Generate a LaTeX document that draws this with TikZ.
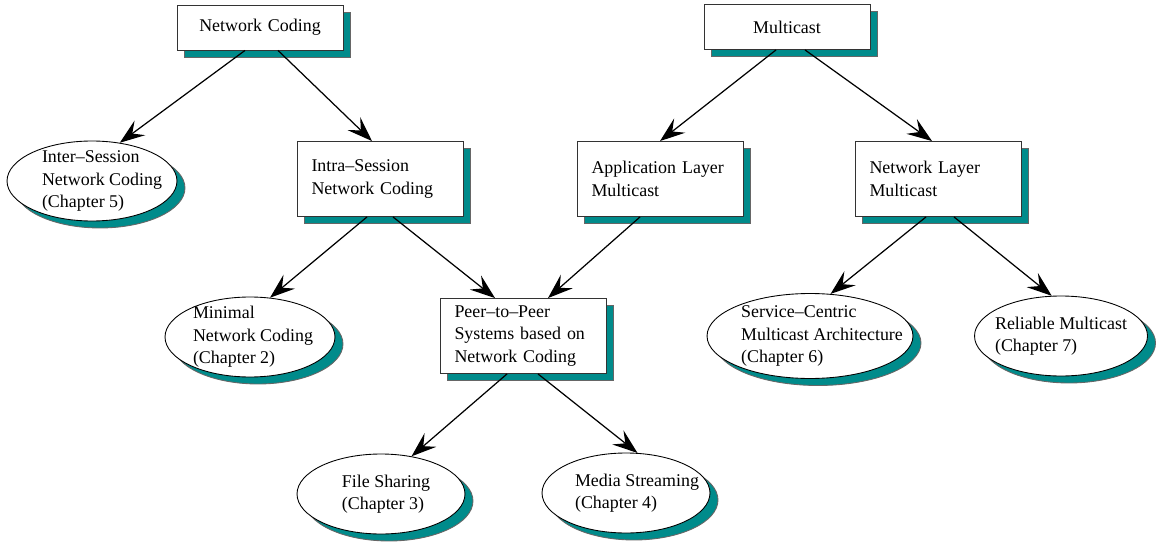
\documentclass[tikz,border=0pt]{standalone}
\usepackage{fontspec}
\setmainfont{Liberation Serif}
\usetikzlibrary{arrows.meta,shapes.geometric,shadows}
\definecolor{shadowteal}{RGB}{0,139,139}

\tikzset{
  txt/.style={font=\fontsize{10.2}{12.8}\selectfont},
  topic/.style={txt, rectangle, draw=black!80, line width=0.5pt, fill=white,
    minimum height=1.5cm, text width=2.74cm, inner xsep=0.29cm, align=left,
    drop shadow={shadow xshift=0.14cm, shadow yshift=-0.14cm, fill=shadowteal, draw=black!60, opacity=1}},
  roottopic/.style={topic, minimum height=0.9cm, align=center},
  chapter/.style={ellipse, draw=black, line width=0.5pt, fill=white, inner sep=0pt,
    minimum width=3.4cm, minimum height=1.6cm,
    drop shadow={shadow xshift=0.16cm, shadow yshift=-0.14cm, fill=shadowteal, draw=black!60, opacity=1}},
  link/.style={-{Stealth[length=0.5cm,width=0.36cm,inset=0.19cm]}, line width=0.7pt}
}

\begin{document}
\begin{tikzpicture}[x=0.02cm,y=-0.02cm]
  \useasboundingbox (0,0) rectangle (1165,547);

  % top level
  \node[roottopic] (nc) at (260,27.5) {Network Coding};
  \node[roottopic] (mc) at (787,27) {Multicast};

  % second level
  \node[chapter, label={[txt,align=left,xshift=0.2cm,name=inter-t]center:Inter--Session\\Network Coding\\(Chapter 5)}] (inter) at (92,181) {};
  \node[topic] (intra) at (380,179) {Intra--Session\\Network Coding};
  \node[topic] (app) at (660,179) {Application Layer\\Multicast};
  \node[topic] (netl) at (938,179) {Network Layer\\Multicast};

  % third level
  \node[chapter, label={[txt,align=left,xshift=0.06cm,name=minimal-t]center:Minimal\\Network Coding\\(Chapter 2)}] (minimal) at (250,337) {};
  \node[topic] (p2p) at (523,336) {Peer--to--Peer\\Systems based on\\Network Coding};
  \node[chapter, minimum width=4.12cm, minimum height=1.7cm, label={[txt,align=left,xshift=0.24cm,name=service-t]center:Service--Centric\\Multicast Architecture\\(Chapter 6)}] (service) at (810,336) {};
  \node[chapter, minimum width=3.46cm, label={[txt,align=left,name=reliable-t]center:Reliable Multicast\\(Chapter 7)}] (reliable) at (1061,336) {};

  % bottom level
  \node[chapter, minimum width=3.36cm, label={[txt,align=left,xshift=0.1cm,name=file-t]center:File Sharing\\(Chapter 3)}] (file) at (381,494) {};
  \node[chapter, minimum width=3.36cm, label={[txt,align=left,xshift=0.22cm,name=media-t]center:Media Streaming\\(Chapter 4)}] (media) at (626,493) {};

  % links
  \draw[link] ([xshift=-0.3cm]nc.south) -- (inter.54);
  \draw[link] ([xshift=0.36cm]nc.south) -- ([xshift=-0.16cm]intra.north);
  \draw[link] ([xshift=-0.22cm]mc.south) -- (app.north);
  \draw[link] ([xshift=0.36cm]mc.south) -- ([xshift=-0.12cm]netl.north);
  \draw[link] ([xshift=-0.26cm]intra.south) -- (minimal.63);
  \draw[link] ([xshift=0.26cm]intra.south) -- ([xshift=-0.56cm]p2p.north);
  \draw[link] ([xshift=-0.4cm]app.south) -- ([xshift=0.5cm]p2p.north);
  \draw[link] ([xshift=-0.24cm]netl.south) -- (service.64);
  \draw[link] ([xshift=0.32cm]netl.south) -- (reliable.103);
  \draw[link] ([xshift=-0.32cm]p2p.south) -- (file.51);
  \draw[link] ([xshift=0.3cm]p2p.south) -- (media.74);
\end{tikzpicture}
\end{document}
